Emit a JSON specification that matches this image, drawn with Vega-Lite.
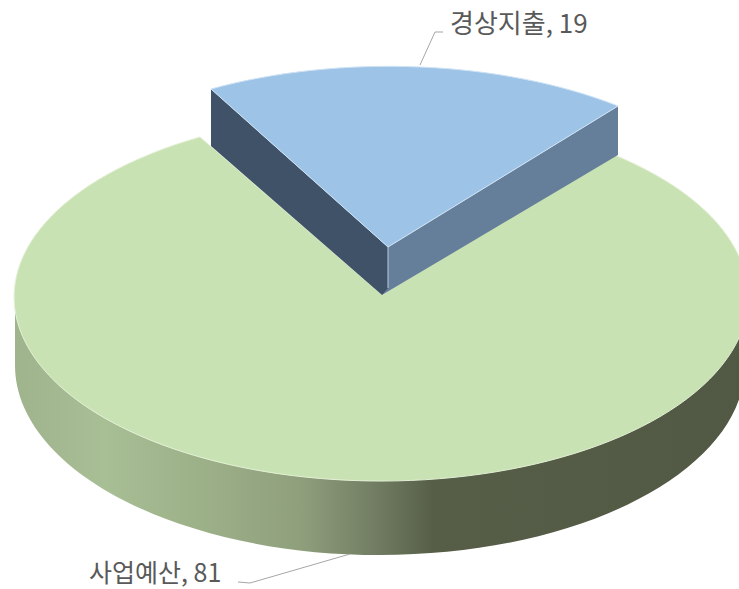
{"$schema":"https://vega.github.io/schema/vega-lite/v6.json","width":739,"height":589,"padding":0,"autosize":"none","background":"white","config":{"view":{"stroke":null}},"data":{"values":[{"category":"경상지출","value":19},{"category":"사업예산","value":81}]},"layer":[
{"transform":[{"filter":"datum.category==='사업예산'"}],"mark":{"type":"point","size":4,"filled":true,"opacity":1,"shape":"M-354.5,2.5L-354.5,70.5A365,190,0,0,0,375.5,70.5L379.5,2.5Z","fill":{"gradient":"linear","x1":0,"y1":0,"x2":1,"y2":0,"stops":[{"offset":0,"color":"#9fb38c"},{"offset":0.12,"color":"#a8be95"},{"offset":0.25,"color":"#9db189"},{"offset":0.39,"color":"#8f9f7c"},{"offset":0.486,"color":"#737f64"},{"offset":0.57,"color":"#565e48"},{"offset":1,"color":"#515843"}]}},"encoding":{}},
{"transform":[{"filter":"datum.category==='사업예산'"}],"mark":{"type":"point","size":4,"filled":true,"opacity":1,"shape":"M12.5,0.5L242.5,-140.5A367,184,0,1,1,-169.5,-157.5Z","fill":"#c9e2b3","stroke":"#e3f0d6","strokeWidth":1},"encoding":{}},
{"transform":[{"filter":"datum.category==='경상지출'"}],"mark":{"type":"point","size":4,"filled":true,"opacity":1,"shape":"M18.5,-47.5L248.5,-188.5L248.5,-139.5L12.5,0.5Z","fill":"#657f9b"},"encoding":{}},
{"transform":[{"filter":"datum.category==='경상지출'"}],"mark":{"type":"point","size":4,"filled":true,"opacity":1,"shape":"M-158.5,-205.5L18.5,-47.5L18.5,-6.5L12.5,0.5L-158.5,-148.5Z","fill":"#3f5267"},"encoding":{}},
{"transform":[{"filter":"datum.category==='경상지출'"}],"mark":{"type":"point","size":4,"filled":false,"opacity":1,"shape":"M18.5,-47.5L18.5,-6.5","stroke":"#b8cce0","strokeWidth":1},"encoding":{}},
{"transform":[{"filter":"datum.category==='경상지출'"}],"mark":{"type":"point","size":4,"filled":true,"opacity":1,"shape":"M18.5,-47.5L-158.5,-205.5A367,181,0,0,1,248.5,-188.5Z","fill":"#9dc3e6","stroke":"#cfe3f5","strokeWidth":1},"encoding":{}},
{"transform":[{"filter":"datum.category==='경상지출'"}],"mark":{"type":"point","size":4,"filled":false,"opacity":1,"shape":"M50.5,-229.5L65.5,-262.5L73.5,-262.5","stroke":"#a6a6a6","strokeWidth":1},"encoding":{}},
{"transform":[{"filter":"datum.category==='사업예산'"}],"mark":{"type":"point","size":4,"filled":false,"opacity":1,"shape":"M-19.5,259.5L-119.5,288.5L-131.5,287.5","stroke":"#a6a6a6","strokeWidth":1},"encoding":{}},
{"transform":[{"filter":"datum.category==='경상지출'"},{"calculate":"datum.category+', '+datum.value","as":"label"}],"mark":{"type":"text","font":"Noto Sans CJK KR","fontSize":26,"align":"left","baseline":"middle","dx":80.5,"dy":-269.5,"color":"#595959"},"encoding":{"text":{"field":"label"}}},
{"transform":[{"filter":"datum.category==='사업예산'"},{"calculate":"datum.category+', '+datum.value","as":"label"}],"mark":{"type":"text","font":"Noto Sans CJK KR","fontSize":25,"align":"left","baseline":"middle","dx":-280.5,"dy":279.5,"color":"#595959"},"encoding":{"text":{"field":"label"}}}
]}
